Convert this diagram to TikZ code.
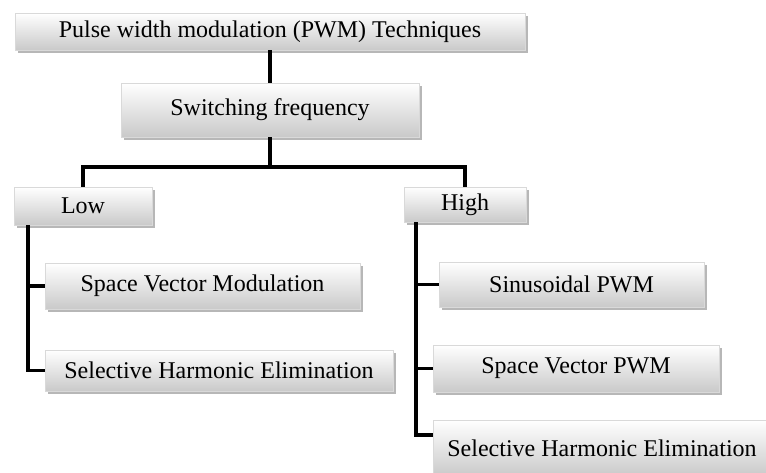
\documentclass[tikz,border=0pt]{standalone}
\usepackage{fontspec}
\setmainfont{Liberation Serif}
\usetikzlibrary{shadows}
\begin{document}
\begin{tikzpicture}[x=1pt,y=-1pt,
  box/.style={draw=gray!30, line width=0.4pt, top color=white, middle color=white!95!gray, bottom color=gray!42,
    inner sep=0pt, font=\fontsize{24}{28}\selectfont,
    drop shadow={shadow xshift=2.5pt, shadow yshift=-3pt, fill=gray!75, opacity=0.75}},
  conn/.style={line width=3.2pt, black}]
\useasboundingbox (0,0) rectangle (766,473);
\node[box, minimum width=510pt, minimum height=37pt] (top) at (270,31.5) {Pulse width modulation (PWM) Techniques};
\node[box, minimum width=298pt, minimum height=54pt] (sw) at (270,110) {Switching frequency};
\node[box, minimum width=138pt, minimum height=38pt] (low) at (83,206) {Low};
\node[box, minimum width=122pt, minimum height=35pt] (high) at (465,204.5) {High};
\node[box, minimum width=315pt, minimum height=46pt] (svm) at (202.5,286) {Space Vector Modulation};
\node[box, minimum width=348pt, minimum height=41pt] (she1) at (219,370.5) {Selective Harmonic Elimination};
\node[box, minimum width=265pt, minimum height=45pt] (sin) at (571.5,284.5) {Sinusoidal PWM};
\node[box, minimum width=286pt, minimum height=47pt] (svpwm) at (576,368.5) {Space Vector PWM};
\node[box, minimum width=338pt, minimum height=56pt] (she2) at (602,448) {Selective Harmonic Elimination};
\coordinate (jL) at (83,167);
\coordinate (jR) at (465,167);
\coordinate (lt) at (28,0);
\coordinate (ht) at (416,0);
\coordinate (s2in) at (433,435);
\draw[conn] (top.south) -- (sw.north);
\draw[conn] (sw.south) -- (sw.south |- jL);
\draw[conn] (low.north) -- (jL) -- (jR) -- (high.north);
\draw[conn] (lt |- low.south) |- (she1.west);
\draw[conn] (lt |- svm.west) -- (svm.west);
\draw[conn] (ht |- high.south) |- (s2in);
\draw[conn] (ht |- sin.west) -- (sin.west);
\draw[conn] (ht |- svpwm.west) -- (svpwm.west);
\end{tikzpicture}
\end{document}
